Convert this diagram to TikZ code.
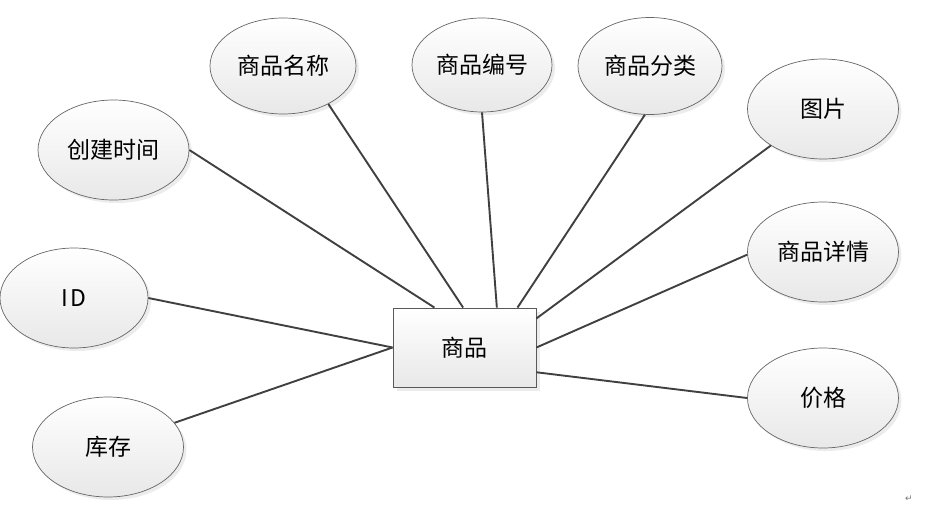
\documentclass[tikz,border=0pt]{standalone}
\usepackage{fontspec}
\setmainfont{Noto Sans CJK SC}
\newfontfamily\symfont{DejaVu Sans}
\usetikzlibrary{shapes.geometric,shadows}
\begin{document}
\begin{tikzpicture}[x=1pt, y=-1pt, font=\fontsize{23}{27}\selectfont,
    attr/.style={ellipse, draw=black!60, line width=0.7pt, inner sep=0pt,
        top color=white, bottom color=black!9, minimum width=151pt, minimum height=100pt,
        drop shadow={opacity=0.15, shadow xshift=3pt, shadow yshift=-3pt}},
    entity/.style={rectangle, draw=black!65, line width=0.9pt,
        top color=white, bottom color=black!9, minimum width=143pt, minimum height=79pt,
        drop shadow={opacity=0.15, shadow xshift=4pt, shadow yshift=-4pt}},
    link/.style={draw=black!75, line width=1.9pt}]
    \useasboundingbox (0,0) rectangle (932,508);
    \node[entity] (goods) at (464.5,347.5) {商品};
    \node[attr] (ctime) at (113.5,150) {创建时间};
    \node[attr, minimum width=146pt, minimum height=96pt] (gname) at (283,66) {商品名称};
    \node[attr, minimum width=140pt, minimum height=94pt] (gno) at (482,65) {商品编号};
    \node[attr, minimum width=144pt, minimum height=97pt] (gcat) at (650,66) {商品分类};
    \node[attr] (pic) at (823,109) {图片};
    \node[attr] (detail) at (823,252) {商品详情};
    \node[attr] (price) at (823,398) {价格};
    \node[attr, minimum width=148pt] (gid) at (74,298) {I\hspace{2pt}D};
    \node[attr] (stock) at (108,447) {库存};
    \node[text=black!55, font=\symfont\fontsize{9}{9}\selectfont] (mark) at (909,499) {↵};
    \draw[link] (ctime.east) -- (goods.127);
    \draw[link] (gname.-40) -- (goods.92);
    \draw[link] (gno.south) -- (goods.51);
    \draw[link] (gcat.-96) -- (goods.37);
    \draw[link] (pic.215) -- (goods.22);
    \draw[link] (detail.182) -- (goods.east);
    \draw[link] (price.west) -- (goods.-19);
    \draw[link] (gid.east) -- (goods.west);
    \draw[link] (stock.20) -- (goods.west);
\end{tikzpicture}
\end{document}
